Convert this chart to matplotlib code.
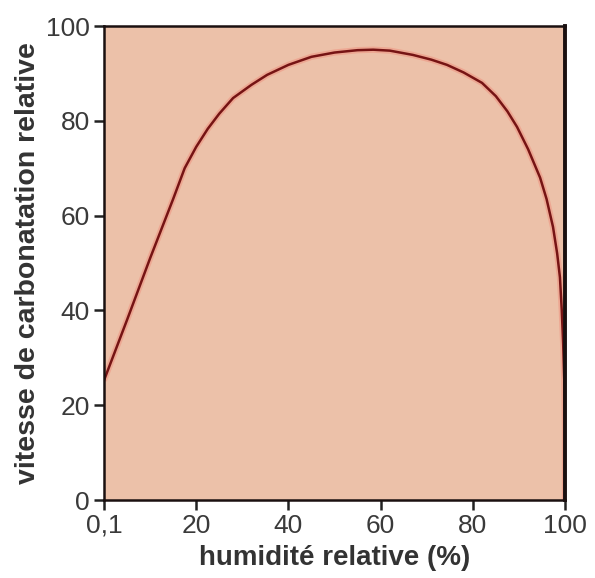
import matplotlib
matplotlib.use("Agg")
import matplotlib.pyplot as plt

# Data
humidity = [0.1, 5.0, 10.0, 15.0, 17.5, 20.0, 22.5, 25.0, 28.0, 32.0, 35.4, 40.0,
            45.0, 50.0, 55.0, 58.4, 62.0, 67.0, 71.0, 74.4, 78.0, 82.0, 85.0,
            87.5, 89.6, 92.0, 94.6, 96.0, 97.4, 98.3, 98.9, 99.3, 99.6, 99.85,
            100.0, 100.0]
rate = [25.5, 38.0, 51.0, 63.5, 70.0, 74.5, 78.3, 81.5, 84.8, 87.6, 89.7, 91.8,
        93.5, 94.4, 94.9, 95.0, 94.8, 93.9, 92.9, 91.8, 90.2, 88.0, 85.2,
        82.0, 78.7, 74.0, 68.0, 63.5, 57.6, 52.0, 47.0, 40.0, 33.0, 25.0,
        15.0, 0.0]
xticks = [0.1, 20, 40, 60, 80, 100]
xticklabels = ["0,1", "20", "40", "60", "80", "100"]
yticks = [0, 20, 40, 60, 80, 100]

plt.rcParams['font.family'] = ['Liberation Sans', 'DejaVu Sans']

fig = plt.figure(figsize=(5.95, 5.78), dpi=100)
ax = fig.add_axes([104/595, 1-500/578, (565-104)/595, (500-26)/578])
ax.set_facecolor('#ECC1A9')

ax.plot(humidity, rate, color='#F07868', lw=4.5, alpha=0.35,
        solid_capstyle='round', solid_joinstyle='round')
ax.plot(humidity, rate, color='#761414', lw=1.8, solid_joinstyle='round')

ax.set_xlim(0, 100)
ax.set_ylim(0, 100)
ax.set_xticks(xticks)
ax.set_xticklabels(xticklabels)
ax.set_yticks(yticks)

for s in ax.spines.values():
    s.set_color('#1a1010')
    s.set_linewidth(1.8)
ax.spines['right'].set_linewidth(2.8)

ax.tick_params(direction='out', length=7, width=1.8, color='#222222',
               labelsize=19, labelcolor='#3a3a3a', pad=3)

ax.set_xlabel('humidité relative (%)', fontsize=20, fontweight='bold',
              color='#333333', labelpad=5)
ax.set_ylabel('vitesse de carbonatation relative', fontsize=20.5,
              fontweight='bold', color='#333333', labelpad=4)

fig.savefig('out.png', dpi=100, facecolor='white')
